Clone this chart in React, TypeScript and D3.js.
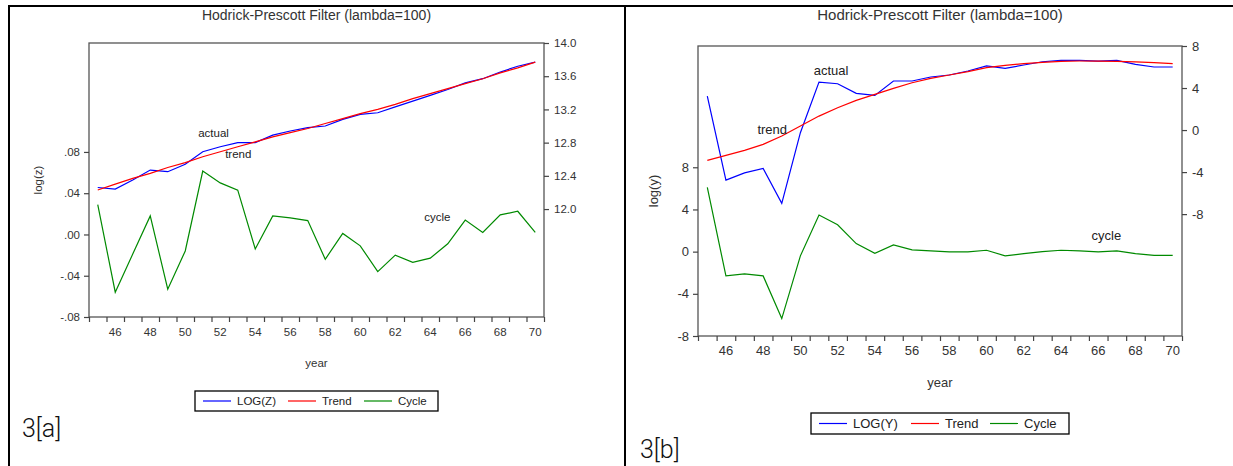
import React, { useEffect, useRef } from 'react';
import * as d3 from 'd3';

// years on the x axis
const years = [45, 46, 47, 48, 49, 50, 51, 52, 53, 54, 55, 56, 57, 58, 59, 60, 61, 62, 63, 64, 65, 66, 67, 68, 69, 70];
const yearLabels = [46, 48, 50, 52, 54, 56, 58, 60, 62, 64, 66, 68, 70];

// panel 3[a]
const logZ = [12.26, 12.24, 12.35, 12.47, 12.45, 12.54, 12.69, 12.75, 12.80, 12.80, 12.89, 12.94, 12.98, 13.00, 13.08, 13.14, 13.16, 13.23, 13.30, 13.37, 13.44, 13.52, 13.57, 13.65, 13.72, 13.77];
const trendZ = [12.23, 12.30, 12.37, 12.43, 12.50, 12.56, 12.63, 12.69, 12.75, 12.81, 12.87, 12.92, 12.97, 13.03, 13.09, 13.15, 13.20, 13.26, 13.33, 13.39, 13.45, 13.51, 13.57, 13.64, 13.70, 13.77];
const cycleZ = [0.029, -0.056, -0.019, 0.018, -0.053, -0.016, 0.0615, 0.050, 0.043, -0.014, 0.018, 0.016, 0.0135, -0.024, 0.001, -0.011, -0.036, -0.020, -0.027, -0.023, -0.009, 0.014, 0.002, 0.019, 0.0225, 0.002];
const cycleTicksA = [-0.08, -0.04, 0, 0.04, 0.08];
const levelTicksA = [12.0, 12.4, 12.8, 13.2, 13.6, 14.0];

// panel 3[b]
const logY = [3.24, -4.76, -4.07, -3.65, -6.98, -0.25, 4.57, 4.41, 3.49, 3.30, 4.67, 4.67, 5.05, 5.24, 5.62, 6.10, 5.87, 6.19, 6.50, 6.63, 6.63, 6.57, 6.63, 6.25, 6.00, 6.00];
const trendY = [-2.89, -2.41, -1.93, -1.36, -0.57, 0.38, 1.33, 2.13, 2.83, 3.40, 3.97, 4.50, 4.92, 5.24, 5.56, 5.94, 6.16, 6.32, 6.44, 6.54, 6.57, 6.57, 6.54, 6.48, 6.41, 6.32];
const cycleY = [6.1, -2.3, -2.1, -2.3, -6.35, -0.4, 3.47, 2.55, 0.76, -0.16, 0.64, 0.16, 0.07, -0.03, -0.03, 0.13, -0.4, -0.19, 0.0, 0.13, 0.07, -0.03, 0.07, -0.19, -0.35, -0.35];
const cycleTicksB = [-8, -4, 0, 4, 8];
const levelTicksB = [-8, -4, 0, 4, 8];

const BLUE = '#0000ff';
const RED = '#ff0000';
const GREEN = '#008a00';
const FONT = 'Arial, "Liberation Sans", sans-serif';

// eviews style: plain hyphen, no leading zero
const fmtDec2 = (v) => v.toFixed(2).replace('0.', '.');
const fmtDec1 = (v) => v.toFixed(1);
const fmtInt = (v) => String(Math.round(v));

const panels = [
  {
    id: '3[a]',
    box: { left: 89, top: 43, right: 544, bottom: 317 },
    cycleDomain: [-0.08, 0.1856],
    levelDomain: [10.7, 14.0],
    cycleTicks: cycleTicksA,
    levelTicks: levelTicksA,
    cycleFmt: fmtDec2,
    levelFmt: fmtDec1,
    actual: logZ, trend: trendZ, cycle: cycleZ,
    seriesName: 'LOG(Z)', yLabel: 'log(z)',
    fs: 11.5, titleFs: 14,
    labels: { actual: [50.74, 12.87], trend: [52.28, 12.61], cycle: [63.65, 0.0135] },
    legend: { x: 195, y: 391, w: 243, h: 20, items: [8, 93, 169] },
    tag: { x: 22, y: 437 },
    yearY: 367, yLabelX: 38,
  },
  {
    id: '3[b]',
    box: { left: 698, top: 46, right: 1182, bottom: 336 },
    cycleDomain: [-8, 19.5],
    levelDomain: [-19.6, 8],
    cycleTicks: cycleTicksB,
    levelTicks: levelTicksB,
    cycleFmt: fmtInt,
    levelFmt: fmtInt,
    actual: logY, trend: trendY, cycle: cycleY,
    seriesName: 'LOG(Y)', yLabel: 'log(y)',
    fs: 13, titleFs: 15,
    labels: { actual: [50.72, 5.24], trend: [47.69, -0.35], cycle: [65.64, 1.11] },
    legend: { x: 811, y: 413, w: 258, h: 21, items: [8, 100, 179] },
    tag: { x: 640, y: 458 },
    yearY: 387, yLabelX: 653,
  },
];

export default function App() {
  const svgRef = useRef(null);

  useEffect(() => {
    const svg = d3.select(svgRef.current);
    svg.selectAll('*').remove();

    // outer frame lines
    svg.append('line').attr('x1', 8).attr('x2', 1233).attr('y1', 6).attr('y2', 6)
      .attr('stroke', '#000').attr('stroke-width', 2);
    svg.append('line').attr('x1', 9).attr('x2', 9).attr('y1', 5).attr('y2', 466)
      .attr('stroke', '#000').attr('stroke-width', 2);
    svg.append('line').attr('x1', 625).attr('x2', 625).attr('y1', 5).attr('y2', 466)
      .attr('stroke', '#000').attr('stroke-width', 2);

    panels.forEach((p) => {
      const g = svg.append('g').style('font-family', FONT);
      const { left, top, right, bottom } = p.box;

      const x = d3.scaleLinear().domain([44.5, 70.5]).range([left, right]);
      const yc = d3.scaleLinear().domain(p.cycleDomain).range([bottom, top]);
      const yl = d3.scaleLinear().domain(p.levelDomain).range([bottom, top]);

      // title
      g.append('text')
        .attr('x', (left + right) / 2).attr('y', 20)
        .attr('text-anchor', 'middle')
        .style('font-size', p.titleFs + 'px').style('fill', '#333')
        .text('Hodrick-Prescott Filter (lambda=100)');

      // plot frame
      g.append('rect')
        .attr('x', left).attr('y', top)
        .attr('width', right - left).attr('height', bottom - top)
        .attr('fill', 'none').attr('stroke', '#555').attr('stroke-width', 1.3);

      // left axis (cycle)
      const la = g.append('g').attr('transform', `translate(${left},0)`)
        .call(d3.axisLeft(yc).tickValues(p.cycleTicks).tickFormat(p.cycleFmt).tickSize(5).tickPadding(4));
      // right axis (level)
      const ra = g.append('g').attr('transform', `translate(${right},0)`)
        .call(d3.axisRight(yl).tickValues(p.levelTicks).tickFormat(p.levelFmt).tickSize(5).tickPadding(5));
      // bottom axis: ticks at year boundaries
      const ba = g.append('g').attr('transform', `translate(0,${bottom})`)
        .call(d3.axisBottom(x).tickValues(years.map((d) => d - 0.5).concat([70.5])).tickFormat('').tickSize(5));

      [la, ra, ba].forEach((a) => {
        a.select('.domain').remove();
        a.selectAll('line').attr('stroke', '#444').attr('stroke-width', 1.2);
        a.selectAll('text').style('font-size', p.fs + 'px').style('font-family', FONT).attr('fill', '#333');
      });

      // year labels
      g.selectAll('.yl').data(yearLabels).enter().append('text')
        .attr('x', (d) => x(d)).attr('y', bottom + 19)
        .attr('text-anchor', 'middle')
        .style('font-size', p.fs + 'px').style('fill', '#333')
        .text((d) => d);

      g.append('text')
        .attr('x', (left + right) / 2).attr('y', p.yearY)
        .attr('text-anchor', 'middle')
        .style('font-size', p.fs + 'px').style('fill', '#333')
        .text('year');

      g.append('text')
        .attr('transform', `translate(${p.yLabelX},${(top + bottom) / 2}) rotate(-90)`)
        .attr('text-anchor', 'middle').attr('dy', '0.35em')
        .style('font-size', p.fs + 'px').style('fill', '#333')
        .text(p.yLabel);

      // lines
      const lineL = d3.line().x((d, i) => x(years[i])).y((d) => yl(d));
      const lineC = d3.line().x((d, i) => x(years[i])).y((d) => yc(d));
      g.append('path').attr('d', lineC(p.cycle)).attr('fill', 'none').attr('stroke', GREEN).attr('stroke-width', 1.2);
      g.append('path').attr('d', lineL(p.actual)).attr('fill', 'none').attr('stroke', BLUE).attr('stroke-width', 1.2);
      g.append('path').attr('d', lineL(p.trend)).attr('fill', 'none').attr('stroke', RED).attr('stroke-width', 1.2);

      // in-plot labels
      const lab = (t, px, py) => g.append('text').attr('x', px).attr('y', py)
        .style('font-size', p.fs + 'px').style('fill', '#222').text(t);
      lab('actual', x(p.labels.actual[0]), yl(p.labels.actual[1]));
      lab('trend', x(p.labels.trend[0]), yl(p.labels.trend[1]));
      lab('cycle', x(p.labels.cycle[0]), yc(p.labels.cycle[1]));

      // legend
      const L = p.legend;
      g.append('rect').attr('x', L.x).attr('y', L.y).attr('width', L.w).attr('height', L.h)
        .attr('fill', '#fff').attr('stroke', '#000').attr('stroke-width', 1.3);
      const items = [[p.seriesName, BLUE], ['Trend', RED], ['Cycle', GREEN]];
      items.forEach(([name, col], i) => {
        const x0 = L.x + L.items[i];
        const ly = L.y + L.h / 2;
        g.append('line').attr('x1', x0).attr('x2', x0 + 28).attr('y1', ly).attr('y2', ly)
          .attr('stroke', col).attr('stroke-width', 1.2);
        g.append('text').attr('x', x0 + 34).attr('y', ly).attr('dy', '0.36em')
          .style('font-size', p.fs + 'px').style('fill', '#222').text(name);
      });

      // panel tag
      g.append('text').attr('x', p.tag.x).attr('y', p.tag.y)
        .style('font-family', 'Roboto, "Liberation Sans", sans-serif')
        .style('font-weight', 300)
        .style('font-size', '25px').style('fill', '#111').text(p.id);
    });
  }, []);

  return (
    <svg
      ref={svgRef}
      width={1233}
      height={466}
      style={{ position: 'fixed', left: 0, top: 0, background: '#fff' }}
    />
  );
}
